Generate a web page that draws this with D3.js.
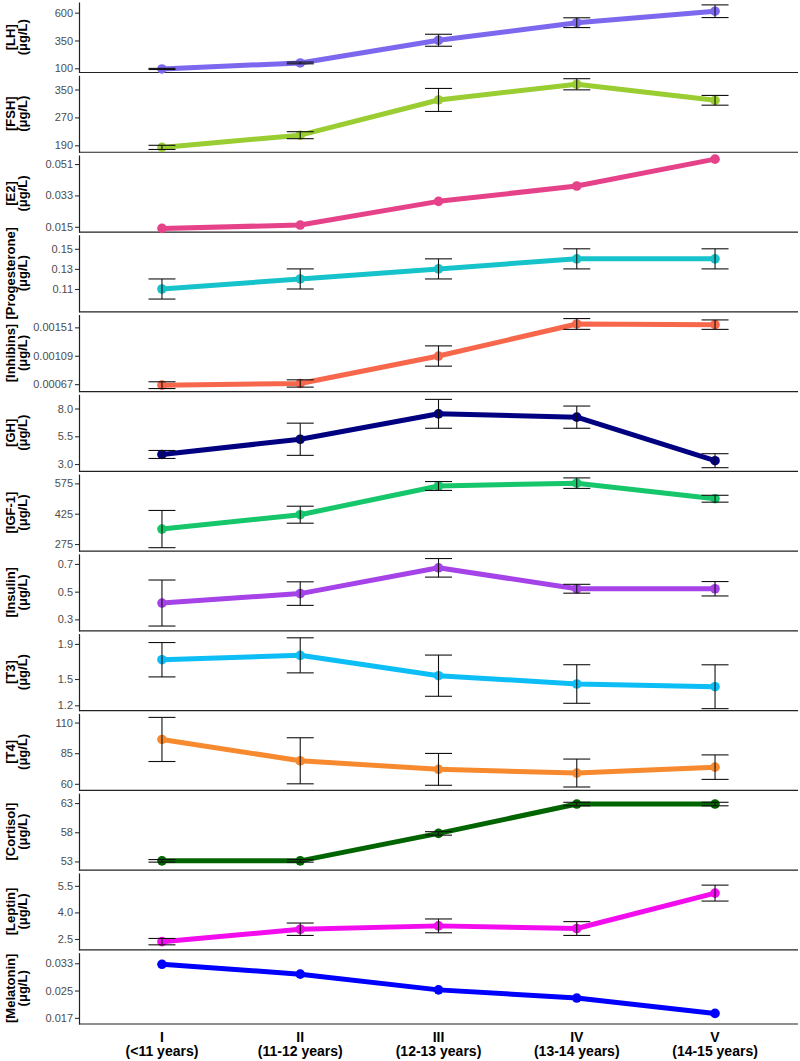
<!DOCTYPE html>
<html><head><meta charset="utf-8">
<script src="https://cdn.jsdelivr.net/npm/d3@7"></script>
<style>body{margin:0;background:#fff}svg{display:block}text{font-family:"Liberation Sans",Arial,sans-serif}</style>
</head><body><svg id="c" width="800" height="1061"></svg>
<script>
// ---- data ----
const categories = ["I","II","III","IV","V"];
const ageRanges = ["(<11 years)","(11-12 years)","(12-13 years)","(13-14 years)","(14-15 years)"];
const hormones = ["LH","FSH","E2","Progesterone","Inhibins","GH","IGF-1","Insulin","T3","T4","Cortisol","Leptin","Melatonin"];
const unitLabel = "(μg/L)";

const LH = [94,148,352,510,613];            const LH_SE = [5,8,54,44,57];
const FSH = [184,219,320,365,319];          const FSH_SE = [6,10,33,16,14];
const E2 = [0.0141,0.0160,0.0296,0.0384,0.0538]; const E2_SE = [0,0,0,0,0];
const PROG = [0.11,0.12,0.13,0.14,0.14];    const PROG_SE = [0.01,0.01,0.01,0.01,0.01];
const INH = [0.000655,0.00068,0.001086,0.00156,0.00155]; const INH_SE = [0.00005,0.000054,0.00015,0.00008,0.00007];
const GH = [3.86,5.23,7.52,7.22,3.30];      const GH_SE = [0.36,1.45,1.30,1.00,0.63];
const IGF1 = [349,420,562,576,499];         const IGF1_SE = [92,42,22,26,17];
const INS = [0.418,0.486,0.672,0.521,0.521]; const INS_SE = [0.166,0.085,0.067,0.032,0.052];
const T3 = [1.72,1.77,1.538,1.443,1.412];   const T3_SE = [0.196,0.20,0.235,0.22,0.25];
const T4 = [96.2,78.8,71.8,68.8,73.6];      const T4_SE = [18,18.8,13,11.4,10];
const CORT = [53.1,53.1,57.8,62.83,62.83];  const CORT_SE = [0.22,0.22,0.3,0.3,0.3];
const LEP = [2.35,3.05,3.24,3.09,5.09];     const LEP_SE = [0.18,0.35,0.39,0.39,0.45];
const MEL = [0.0327,0.0298,0.0252,0.0228,0.0183]; const MEL_SE = [0,0,0,0,0];

const tickLabels = [
  ["100","350","600"],["190","270","350"],["0.015","0.033","0.051"],["0.11","0.13","0.15"],
  ["0.00067","0.00109","0.00151"],["3.0","5.5","8.0"],["275","425","575"],["0.3","0.5","0.7"],
  ["1.2","1.5","1.9"],["60","85","110"],["53","58","63"],["2.5","4.0","5.5"],["0.017","0.025","0.033"]
];
const yDomains = [
  [62,696],[170,391],[0.0120,0.0562],[0.0873,0.164],[0.00056,0.0017],[2.34,9.28],[240,621],
  [0.217,0.773],[1.139,2.018],[54.6,117.5],[51.5,64.7],[1.88,6.23],[0.0152,0.0361]
];
const colors = ["#7B68EE","#9ACD32","#E6428A","#17C3CB","#F7674C","#000080","#15C66A",
  "#A542E8","#0CBEF5","#F7892F","#006400","#F20CEE","#0000FF"];

const means = [LH,FSH,E2,PROG,INH,GH,IGF1,INS,T3,T4,CORT,LEP,MEL];
const ses = [LH_SE,FSH_SE,E2_SE,PROG_SE,INH_SE,GH_SE,IGF1_SE,INS_SE,T3_SE,T4_SE,CORT_SE,LEP_SE,MEL_SE];

// ---- layout ----
const svg = d3.select("#c");
const left = 79, right = 798;
const x = d3.scalePoint().domain(categories).range([left, right]).padding(0.6);
const n = hormones.length;
const pitch = 79.77;
function panelBottom(i){ return i === n-1 ? 1024 : 72.5 + i*pitch; }
function panelTop(i){ return i === 0 ? 2 : panelBottom(i-1) + 2.7; }

hormones.forEach((h, i) => {
  const top = panelTop(i), bot = panelBottom(i);
  const y = d3.scaleLinear().domain(yDomains[i]).range([bot, top]);
  const g = svg.append("g");
  const data = categories.map((c, j) => ({c, m: means[i][j], se: ses[i][j]}));

  // y axis
  const tv = tickLabels[i].map(Number);
  const ax = g.append("g").attr("transform", `translate(${left},0)`)
    .call(d3.axisLeft(y).tickValues(tv).tickFormat((d, k) => tickLabels[i][k]).tickSize(4).tickSizeOuter(0).tickPadding(2));
  ax.select(".domain").attr("stroke", "#222").attr("stroke-width", 1.2);
  ax.selectAll(".tick line").attr("stroke", "#333").attr("stroke-width", 1.1);
  ax.selectAll(".tick text").attr("fill", "#4D4D4D").style("font-size", "11px")
    .style("font-family", '"Liberation Sans",Arial,sans-serif');

  // bottom line
  g.append("line").attr("x1", left).attr("x2", right).attr("y1", bot).attr("y2", bot)
    .attr("stroke", "#222").attr("stroke-width", 1.2);

  // line
  g.append("path").datum(data)
    .attr("d", d3.line().x(d => x(d.c)).y(d => y(d.m)))
    .attr("fill", "none").attr("stroke", colors[i]).attr("stroke-width", 5)
    .attr("stroke-linejoin", "round").attr("stroke-linecap", "round");
  g.selectAll("circle").data(data).join("circle")
    .attr("cx", d => x(d.c)).attr("cy", d => y(d.m)).attr("r", 4.8).attr("fill", colors[i]);

  // error bars
  const eb = g.selectAll(".eb").data(data.filter(d => d.se > 0)).join("g").attr("class", "eb");
  eb.append("line").attr("x1", d => x(d.c)).attr("x2", d => x(d.c))
    .attr("y1", d => y(d.m - d.se)).attr("y2", d => y(d.m + d.se));
  eb.append("line").attr("x1", d => x(d.c) - 13.5).attr("x2", d => x(d.c) + 13.5)
    .attr("y1", d => y(d.m + d.se)).attr("y2", d => y(d.m + d.se));
  eb.append("line").attr("x1", d => x(d.c) - 13.5).attr("x2", d => x(d.c) + 13.5)
    .attr("y1", d => y(d.m - d.se)).attr("y2", d => y(d.m - d.se));
  eb.selectAll("line").attr("stroke", "#111").attr("stroke-width", 1.1);

  // y label
  const cy = (top + bot) / 2;
  const lab = svg.append("text").attr("transform", `translate(15,${cy}) rotate(-90)`)
    .attr("text-anchor", "middle").style("font-size", "13px").style("font-weight", "bold").attr("fill", "#000");
  lab.append("tspan").attr("x", 0).attr("y", 0).text(`[${h}]`);
  lab.append("tspan").attr("x", 0).attr("y", 11.5).text(unitLabel);
});

// x axis labels
const xl = svg.append("g");
categories.forEach((c, j) => {
  const t = xl.append("text").attr("text-anchor", "middle").attr("x", x(c))
    .style("font-size", "14px").style("font-weight", "bold").attr("fill", "#000");
  t.append("tspan").attr("x", x(c)).attr("y", 1042).text(c);
  t.append("tspan").attr("x", x(c)).attr("y", 1056).text(ageRanges[j]);
});
</script></body></html>
